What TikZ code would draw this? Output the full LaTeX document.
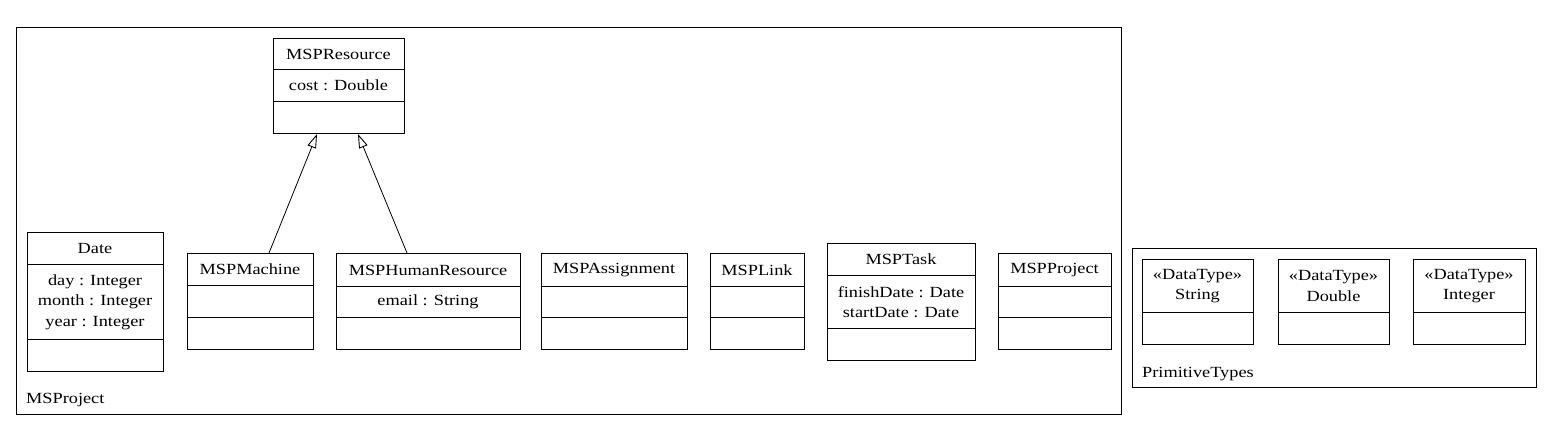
\documentclass[tikz,border=0pt]{standalone}
\usepackage{fontspec}
\setmainfont{Liberation Serif}[FakeStretch=1.18]
\usetikzlibrary{arrows.meta,calc}
\tikzset{
  frame/.style={draw, line width=1pt, rectangle, anchor=north west, inner sep=0pt},
  clsbox/.style={draw, line width=1pt, rectangle, anchor=north west, inner sep=0pt, fill=white},
  divider/.style={line width=1pt},
  txt/.style={inner sep=0pt, align=center, font=\fontsize{15.5}{20.5}\selectfont},
  pkglbl/.style={inner sep=0pt, anchor=base west, font=\fontsize{15.5}{20.5}\selectfont},
  gen/.style={line width=0.8pt, -{Triangle[open, length=14pt, width=9pt, line width=0.9pt]}}
}
\begin{document}
\begin{tikzpicture}[x=1pt, y=-1pt]
\useasboundingbox[fill=white] (0,0) rectangle (1552,429);

% packages
\node[frame, minimum width=1105, minimum height=387] (pkgA) at (16,27) {};
\node[pkglbl] (pkgAl) at (26,403) {MSProject};
\node[frame, minimum width=404, minimum height=139] (pkgB) at (1132,248) {};
\node[pkglbl] (pkgBl) at (1142,377) {PrimitiveTypes};

% MSPResource
\node[clsbox, minimum width=131, minimum height=95] (res) at (273,38) {};
\draw[divider] (273,69) -- (404,69) (273,101) -- (404,101);
\node[txt] (resN) at (338.5,54) {MSPResource};
\node[txt] (resA) at (338.5,85.5) {cost : Double};

% Date
\node[clsbox, minimum width=136, minimum height=139] (date) at (27,232) {};
\draw[divider] (27,264) -- (163,264) (27,339) -- (163,339);
\node[txt] (dateN) at (95,248.5) {Date};
\node[txt] (dateA) at (95,302) {day : Integer\\month : Integer\\year : Integer};

% MSPMachine
\node[clsbox, minimum width=126, minimum height=96] (mach) at (187,253) {};
\draw[divider] (187,285) -- (313,285) (187,317) -- (313,317);
\node[txt] (machN) at (250,269.5) {MSPMachine};

% MSPHumanResource
\node[clsbox, minimum width=184, minimum height=96] (hr) at (336,253) {};
\draw[divider] (336,286) -- (520,286) (336,317) -- (520,317);
\node[txt] (hrN) at (428,270) {MSPHumanResource};
\node[txt] (hrA) at (428,302) {email : String};

% MSPAssignment
\node[clsbox, minimum width=146, minimum height=96] (asg) at (541,253) {};
\draw[divider] (541,286) -- (687,286) (541,317) -- (687,317);
\node[txt] (asgN) at (614,270) {MSPAssignment};

% MSPLink
\node[clsbox, minimum width=94, minimum height=96] (link) at (710,253) {};
\draw[divider] (710,286) -- (804,286) (710,317) -- (804,317);
\node[txt] (linkN) at (757,270) {MSPLink};

% MSPTask
\node[clsbox, minimum width=148, minimum height=117] (task) at (827,243) {};
\draw[divider] (827,275) -- (975,275) (827,328) -- (975,328);
\node[txt] (taskN) at (901,259.5) {MSPTask};
\node[txt] (taskA) at (901,302) {finishDate : Date\\startDate : Date};

% MSPProject
\node[clsbox, minimum width=113, minimum height=96] (proj) at (998,253) {};
\draw[divider] (998,286) -- (1111,286) (998,317) -- (1111,317);
\node[txt] (projN) at (1054.5,270) {MSPProject};

% DataTypes
\node[clsbox, minimum width=111, minimum height=85] (str) at (1142,259) {};
\draw[divider] (1142,312) -- (1253,312);
\node[txt] (strN) at (1197.5,286) {«DataType»\\String};

\node[clsbox, minimum width=111, minimum height=85] (dbl) at (1278,259) {};
\draw[divider] (1278,312) -- (1389,312);
\node[txt] (dblN) at (1333.5,286) {«DataType»\\Double};

\node[clsbox, minimum width=112, minimum height=85] (int) at (1413,259) {};
\draw[divider] (1413,312) -- (1525,312);
\node[txt] (intN) at (1469,286) {«DataType»\\Integer};

% generalizations
\draw[gen] ($(mach.north west)+(82,0)$) -- ($(res.south west)+(44,0)$);
\draw[gen] ($(hr.north west)+(71,0)$) -- ($(res.south west)+(85,0)$);
\end{tikzpicture}
\end{document}
